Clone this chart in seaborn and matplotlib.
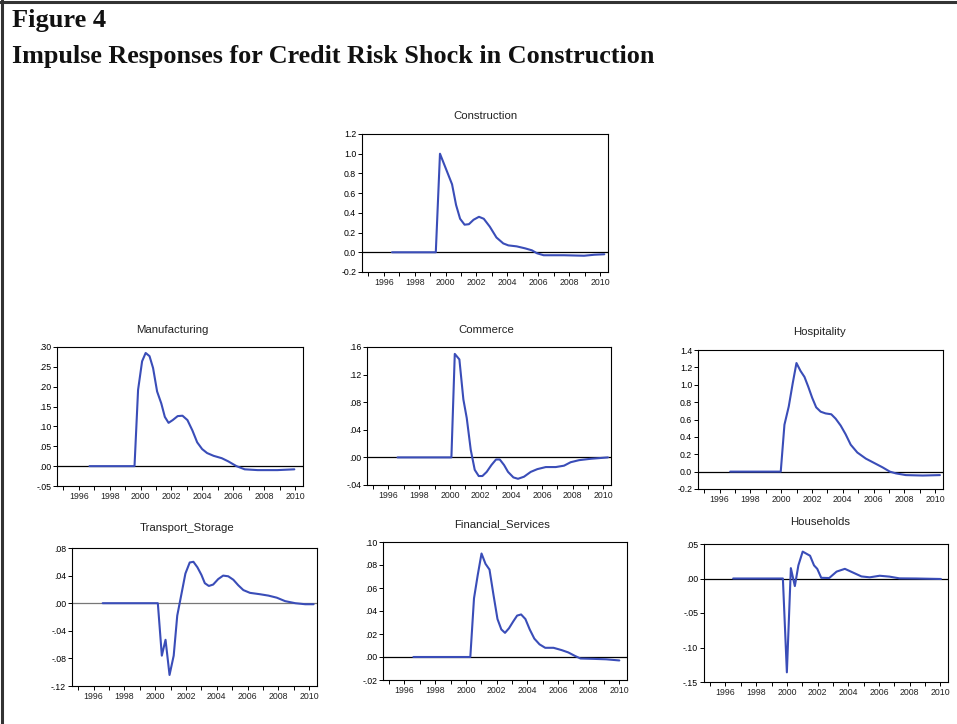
import matplotlib
matplotlib.use("Agg")
import matplotlib.pyplot as plt
import seaborn as sns
from matplotlib.lines import Line2D
from matplotlib.ticker import FixedLocator, FuncFormatter

# ---------------- impulse response series (period, response) ----------------
construction_t = [1996.54, 1999.37, 1999.64, 2000.42, 2000.68, 2000.94, 2001.23, 2001.51,
                  2001.81, 2002.16, 2002.47, 2002.86, 2003.29, 2003.73, 2004.06, 2004.60,
                  2005.14, 2005.58, 2005.91, 2006.34, 2007.65, 2008.95, 2009.61, 2010.26]
construction_v = [0.0, 0.0, 1.0, 0.69, 0.48, 0.34, 0.28, 0.285,
                  0.33, 0.36, 0.34, 0.26, 0.15, 0.09, 0.07, 0.06,
                  0.04, 0.02, -0.01, -0.03, -0.03, -0.035, -0.025, -0.02]

manufacturing_t = [1996.70, 1999.61, 1999.84, 2000.10, 2000.33, 2000.58, 2000.81, 2001.07,
                   2001.34, 2001.57, 2001.81, 2002.08, 2002.40, 2002.71, 2003.03, 2003.35,
                   2003.66, 2003.98, 2004.30, 2004.72, 2005.25, 2005.67, 2006.20, 2006.73,
                   2007.57, 2008.84, 2009.94]
manufacturing_v = [0.0, 0.0, 0.192, 0.264, 0.285, 0.277, 0.247, 0.188,
                   0.158, 0.124, 0.109, 0.116, 0.126, 0.127, 0.116, 0.090,
                   0.060, 0.043, 0.033, 0.026, 0.020, 0.012, 0.000, -0.008,
                   -0.010, -0.010, -0.008]

commerce_t = [1996.59, 2000.10, 2000.32, 2000.62, 2000.88, 2001.10, 2001.36, 2001.62,
              2001.88, 2002.12, 2002.40, 2002.71, 2003.01, 2003.25, 2003.53, 2003.79,
              2004.14, 2004.44, 2004.83, 2005.27, 2005.70, 2006.25, 2006.90, 2007.44,
              2007.87, 2008.42, 2009.18, 2010.30]
commerce_v = [0.0, 0.0, 0.150, 0.142, 0.084, 0.057, 0.011, -0.018,
              -0.027, -0.027, -0.021, -0.011, -0.003, -0.003, -0.011, -0.021,
              -0.029, -0.031, -0.028, -0.021, -0.017, -0.014, -0.014, -0.012,
              -0.007, -0.004, -0.002, 0.0]

hospitality_t = [1996.69, 1999.97, 2000.21, 2000.49, 2000.75, 2000.99, 2001.25, 2001.51,
                 2001.75, 2002.01, 2002.27, 2002.56, 2002.88, 2003.25, 2003.53, 2003.86,
                 2004.18, 2004.51, 2004.94, 2005.49, 2006.03, 2006.57, 2007.05, 2007.44,
                 2008.09, 2009.18, 2010.30]
hospitality_v = [0.0, 0.0, 0.54, 0.75, 1.02, 1.25, 1.16, 1.09,
                 0.98, 0.85, 0.74, 0.69, 0.67, 0.66, 0.61, 0.53,
                 0.43, 0.31, 0.22, 0.15, 0.10, 0.05, 0.0, -0.02,
                 -0.04, -0.045, -0.04]

transport_t = [1996.59, 2000.17, 2000.43, 2000.67, 2000.93, 2001.20, 2001.43, 2001.70,
               2001.96, 2002.24, 2002.48, 2002.74, 2003.00, 2003.22, 2003.48, 2003.76,
               2004.09, 2004.41, 2004.74, 2005.07, 2005.39, 2005.72, 2006.15, 2006.80,
               2007.35, 2007.89, 2008.43, 2009.09, 2009.74, 2010.28]
transport_v = [0.0, 0.0, -0.076, -0.053, -0.104, -0.076, -0.018, 0.013,
               0.043, 0.059, 0.060, 0.052, 0.041, 0.029, 0.025, 0.027,
               0.035, 0.040, 0.039, 0.034, 0.026, 0.019, 0.015, 0.013,
               0.011, 0.008, 0.003, 0.0, -0.0015, -0.0015]

financial_t = [1996.58, 2000.29, 2000.53, 2000.77, 2001.02, 2001.28, 2001.54, 2001.80,
               2002.06, 2002.31, 2002.55, 2002.81, 2003.09, 2003.34, 2003.60, 2003.88,
               2004.16, 2004.46, 2004.80, 2005.17, 2005.71, 2006.24, 2006.67, 2007.10,
               2007.47, 2008.28, 2009.14, 2010.00]
financial_v = [0.0, 0.0, 0.051, 0.071, 0.090, 0.081, 0.076, 0.054,
               0.033, 0.024, 0.021, 0.025, 0.031, 0.036, 0.037, 0.033,
               0.024, 0.016, 0.011, 0.008, 0.008, 0.006, 0.004, 0.001,
               -0.0013, -0.0016, -0.002, -0.003]

households_t = [1996.50, 1999.74, 2000.00, 2000.26, 2000.52, 2000.75, 2001.03, 2001.51,
                2001.77, 2001.98, 2002.24, 2002.76, 2003.24, 2003.78, 2004.32, 2004.86,
                2005.40, 2006.05, 2006.69, 2007.34, 2008.42, 2010.04]
households_v = [0.0, 0.0, -0.136, 0.015, -0.011, 0.019, 0.039, 0.033,
                0.019, 0.014, 0.001, 0.0007, 0.010, 0.014, 0.0085, 0.003,
                0.0017, 0.004, 0.0027, 0.0002, 0.0, -0.0007]

year_ticks = list(range(1995, 2011))
year_labels = [str(y) if y % 2 == 0 else "" for y in year_ticks]

# ---------------- styling ----------------
sns.set_theme(style="ticks")
plt.rcParams["font.family"] = ["Liberation Sans", "DejaVu Sans"]
plt.rcParams["axes.linewidth"] = 0.8

W, H = 957, 724
fig = plt.figure(figsize=(W / 100, H / 100), dpi=100)
fig.patch.set_facecolor("white")

LINE_COLOR = "#3a4db8"


def box(left, top, right, bottom):
    return [left / W, 1 - bottom / H, (right - left) / W, (bottom - top) / H]


def one_dec(v, _pos=None):
    return f"{v:.1f}"


def two_dec(v, _pos=None):
    s = f"{v:.2f}"
    return s.replace("0.", ".", 1)


panels = [
    ("Construction", construction_t, construction_v, (362, 134, 608, 272), (485, 116),
     (-0.2, 1.2), [-0.2, 0.0, 0.2, 0.4, 0.6, 0.8, 1.0, 1.2], one_dec, "black"),
    ("Manufacturing", manufacturing_t, manufacturing_v, (57, 347, 303, 486), (172, 330),
     (-0.05, 0.30), [-0.05, 0.0, 0.05, 0.10, 0.15, 0.20, 0.25, 0.30], two_dec, "black"),
    ("Commerce", commerce_t, commerce_v, (367, 347, 611, 485), (486, 330),
     (-0.04, 0.16), [-0.04, 0.0, 0.04, 0.08, 0.12, 0.16], two_dec, "black"),
    ("Hospitality", hospitality_t, hospitality_v, (698, 350, 943, 489), (820, 332),
     (-0.2, 1.4), [-0.2, 0.0, 0.2, 0.4, 0.6, 0.8, 1.0, 1.2, 1.4], one_dec, "black"),
    ("Transport_Storage", transport_t, transport_v, (72, 548, 317, 686), (187, 528),
     (-0.12, 0.08), [-0.12, -0.08, -0.04, 0.0, 0.04, 0.08], two_dec, "#777777"),
    ("Financial_Services", financial_t, financial_v, (383, 542, 627, 680), (502, 524),
     (-0.02, 0.10), [-0.02, 0.0, 0.02, 0.04, 0.06, 0.08, 0.10], two_dec, "black"),
    ("Households", households_t, households_v, (704, 544, 948, 682), (820, 522),
     (-0.15, 0.05), [-0.15, -0.10, -0.05, 0.0, 0.05], two_dec, "black"),
]

for title, t, v, rect, tpos, ylim, yticks, fmt, zcol in panels:
    ax = fig.add_axes(box(*rect))
    ax.axhline(0, color=zcol, lw=0.9, zorder=1)
    sns.lineplot(x=t, y=v, ax=ax, color=LINE_COLOR, lw=1.5, zorder=2)
    ax.set_xlim(1994.6, 2010.5)
    ax.set_ylim(*ylim)
    ax.xaxis.set_major_locator(FixedLocator(year_ticks))
    ax.set_xticklabels(year_labels)
    ax.yaxis.set_major_locator(FixedLocator(yticks))
    ax.yaxis.set_major_formatter(FuncFormatter(fmt))
    ax.tick_params(axis="both", direction="out", length=3, width=0.7,
                   labelsize=6.3, pad=1.2, colors="black")
    ax.tick_params(axis="x", labelcolor="#222222")
    ax.set_xlabel("")
    ax.set_ylabel("")
    for side in ("top", "right", "left", "bottom"):
        ax.spines[side].set_visible(True)
        ax.spines[side].set_color("black")
        ax.spines[side].set_linewidth(0.8)
    ax.set_facecolor("white")
    fig.text(tpos[0] / W, 1 - tpos[1] / H, title, ha="center", va="center",
             fontsize=8.2, color="#222222")

# heading
fig.text(12 / W, 1 - 27 / H, "Figure 4", fontsize=19, fontweight="bold",
         family=["Liberation Serif", "DejaVu Serif"], va="baseline", ha="left",
         color="#111111")
fig.text(12 / W, 1 - 63 / H, "Impulse Responses for Credit Risk Shock in Construction",
         fontsize=18.8, fontweight="bold", family=["Liberation Serif", "DejaVu Serif"],
         va="baseline", ha="left", color="#111111")

# frame along the top and left edges
fig.add_artist(Line2D([0, 1], [1 - 2 / H, 1 - 2 / H], transform=fig.transFigure,
                      color="#333333", lw=2.2))
fig.add_artist(Line2D([2 / W, 2 / W], [0, 1], transform=fig.transFigure,
                      color="#333333", lw=2.2))

fig.savefig("out.png", dpi=100)
